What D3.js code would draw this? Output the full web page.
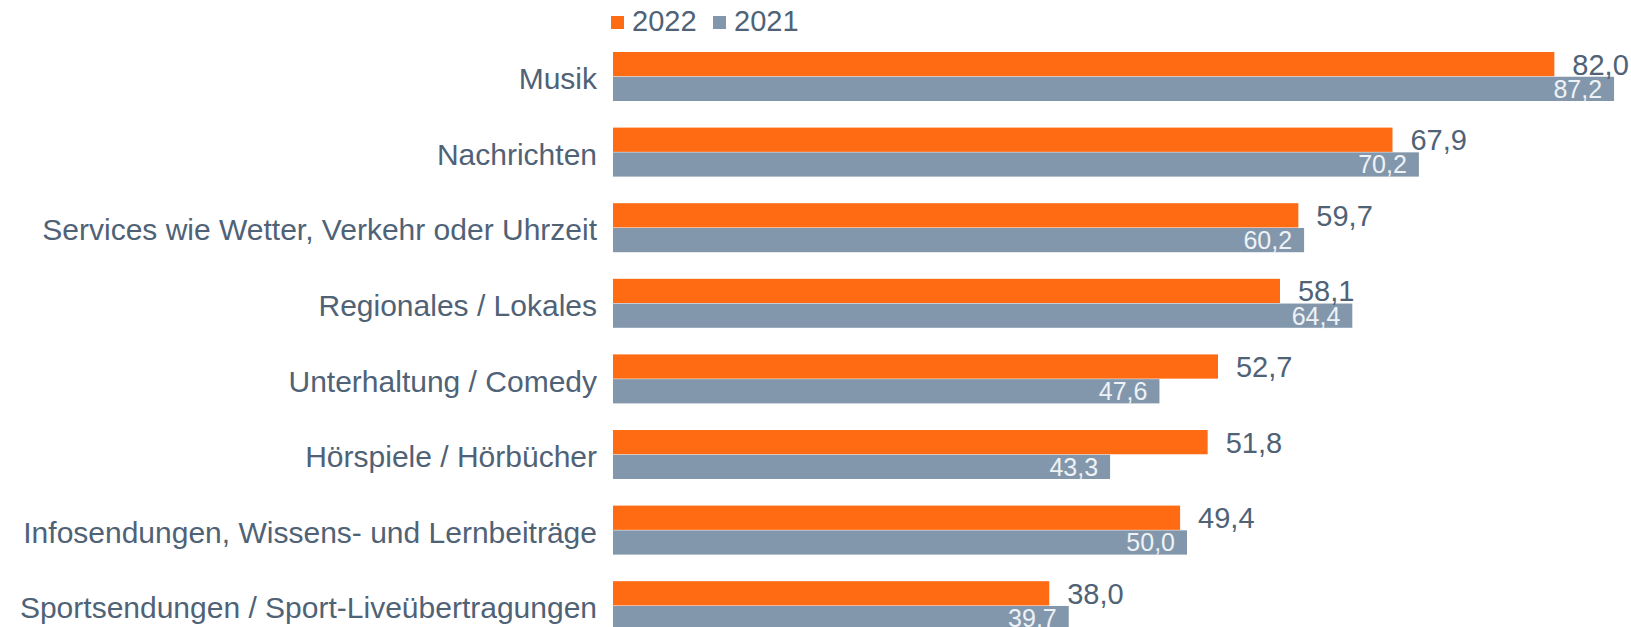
<!DOCTYPE html>
<html>
<head>
<meta charset="utf-8">
<script src="https://cdn.jsdelivr.net/npm/d3@7"></script>
<style>
  html, body { margin: 0; padding: 0; background: #fff; }
  svg { display: block; font-family: "Liberation Sans", Arial, sans-serif; }
</style>
</head>
<body>
<svg width="1631" height="627"></svg>
<script>
// data
const categories = [
  "Musik",
  "Nachrichten",
  "Services wie Wetter, Verkehr oder Uhrzeit",
  "Regionales / Lokales",
  "Unterhaltung / Comedy",
  "Hörspiele / Hörbücher",
  "Infosendungen, Wissens- und Lernbeiträge",
  "Sportsendungen / Sport-Liveübertragungen"
];
const series = ["2022", "2021"];
const values2022 = [82.0, 67.9, 59.7, 58.1, 52.7, 51.8, 49.4, 38.0];
const values2021 = [87.2, 70.2, 60.2, 64.4, 47.6, 43.3, 50.0, 39.7];

const colors = { "2022": "#ff6b12", "2021": "#8297ab" };
const textColor = "#4f6276";

const svg = d3.select("svg");

const rows = categories.map((c, i) => ({
  cat: c,
  vals: [
    { key: "2022", v: values2022[i] },
    { key: "2021", v: values2021[i] }
  ]
}));

const fmt = d3.formatLocale({ decimal: ",", thousands: ".", grouping: [3], currency: ["", "€"] }).format(".1f");

const step = 75.6;
const bw = 49;
const pi = 1 - bw / step;
const y0 = 52 - (pi / 2) * step;

const x = d3.scaleLinear().domain([0, 100]).range([613, 613 + 1148]);
const y = d3.scaleBand()
  .domain(categories)
  .range([y0, y0 + step * categories.length])
  .paddingInner(pi)
  .paddingOuter(pi / 2);
const ySub = d3.scaleBand().domain(series).range([0, y.bandwidth()]).paddingInner(0.02);

// legend
const legend = svg.append("g");
let lx = 611;
series.forEach(s => {
  legend.append("rect")
    .attr("x", lx).attr("y", 16)
    .attr("width", 13).attr("height", 13)
    .attr("fill", colors[s]);
  legend.append("text")
    .attr("x", lx + 21).attr("y", 31)
    .attr("font-size", 29)
    .attr("fill", textColor)
    .text(s);
  lx += 102;
});

const groups = svg.selectAll("g.row")
  .data(rows)
  .join("g")
  .attr("class", "row")
  .attr("transform", d => `translate(0,${y(d.cat)})`);

// category labels
groups.append("text")
  .attr("x", 597)
  .attr("y", y.bandwidth() / 2 + 2)
  .attr("dy", "0.36em")
  .attr("text-anchor", "end")
  .attr("font-size", 30)
  .attr("fill", textColor)
  .text(d => d.cat);

groups.selectAll("rect")
  .data(d => d.vals)
  .join("rect")
  .attr("x", x(0))
  .attr("y", d => ySub(d.key))
  .attr("width", d => x(d.v) - x(0))
  .attr("height", ySub.bandwidth())
  .attr("fill", d => colors[d.key]);

// 2022 labels outside, 2021 labels inside
groups.selectAll("text.val")
  .data(d => d.vals)
  .join("text")
  .attr("class", "val")
  .attr("x", d => d.key === "2022" ? x(d.v) + 18 : x(d.v) - 12)
  .attr("y", d => ySub(d.key) + ySub.bandwidth() / 2)
  .attr("dy", "0.36em")
  .attr("text-anchor", d => d.key === "2022" ? "start" : "end")
  .attr("font-size", d => d.key === "2022" ? 29 : 25)
  .attr("fill", d => d.key === "2022" ? textColor : "#eef2f6")
  .text(d => fmt(d.v));
</script>
</body>
</html>
